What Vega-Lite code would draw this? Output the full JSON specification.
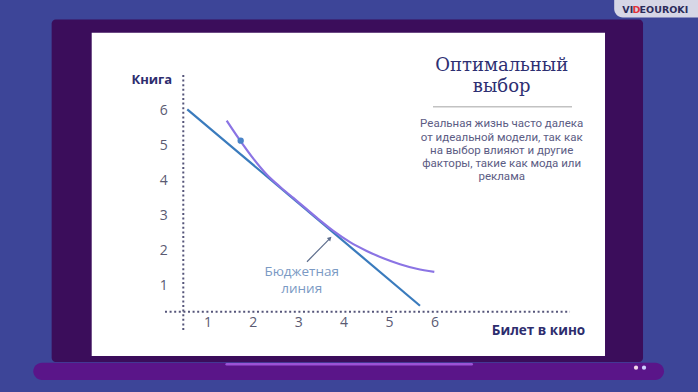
{
  "$schema": "https://vega.github.io/schema/vega-lite/v6.json",
  "width": 698,
  "height": 392,
  "autosize": {"type": "fit", "contains": "padding"},
  "padding": 0,
  "background": "#3d4598",
  "config": {"view": {"stroke": null}},
  "datasets": {
    "panels": [
      {"part": "frame", "x": -2.430, "x2": 10.595, "y": 8.600, "y2": -1.169},
      {"part": "slide", "x": -1.548, "x2": 9.758, "y": 8.223, "y2": -0.998},
      {"part": "base", "x": -2.835, "x2": 11.057, "y": -1.189, "y2": -1.683},
      {"part": "logo", "x": 9.96, "x2": 11.806, "y": 9.156, "y2": 8.66}
    ],
    "stripe": [{"x": 1.425, "x2": 6.822, "y": -1.236}],
    "lights": [
      {"light": "left", "x": 10.441, "y": -1.332},
      {"light": "right", "x": 10.617, "y": -1.332}
    ],
    "axislines": [
      {"axis": "Книга", "x": 0.469, "x2": 0.469, "y": 7.017, "y2": -0.257},
      {"axis": "Билет в кино", "x": 0.066, "x2": 8.987, "y": 0.265, "y2": 0.265}
    ],
    "budget": [
      {"x": 0.557, "y": 6.038},
      {"x": 5.683, "y": 0.436}
    ],
    "curve": [
      {"x": 1.425, "y": 5.713},
      {"x": 1.718, "y": 5.15},
      {"x": 2.012, "y": 4.63},
      {"x": 2.306, "y": 4.18},
      {"x": 2.599, "y": 3.83},
      {"x": 2.893, "y": 3.51},
      {"x": 3.187, "y": 3.19},
      {"x": 3.48, "y": 2.87},
      {"x": 3.774, "y": 2.57},
      {"x": 4.141, "y": 2.25},
      {"x": 4.508, "y": 2.0},
      {"x": 4.875, "y": 1.79},
      {"x": 5.242, "y": 1.62},
      {"x": 5.61, "y": 1.49},
      {"x": 5.998, "y": 1.40}
    ],
    "point": [{"x": 1.733, "y": 5.143}],
    "arrow": [{"x": 3.194, "y": 1.691, "x2": 3.700, "y2": 2.359}],
    "arrowhead": [{"x": 3.700, "y": 2.359}],
    "annot": [
      {"t": "Бюджетная", "x": 3.077, "y": 1.39},
      {"t": "линия", "x": 3.077, "y": 0.90}
    ],
    "titles": [
      {"t": "Оптимальный", "x": 7.482, "y": 7.273},
      {"t": "выбор", "x": 7.482, "y": 6.683}
    ],
    "divider": [{"x": 5.969, "x2": 9.031, "y": 6.112}],
    "body": [
      {"t": "Реальная жизнь часто далека", "x": 7.482, "y": 5.619},
      {"t": "от идеальной модели, так как", "x": 7.482, "y": 5.228},
      {"t": "на выбор влияют и другие", "x": 7.482, "y": 4.849},
      {"t": "факторы, такие как мода или", "x": 7.482, "y": 4.478},
      {"t": "реклама", "x": 7.482, "y": 4.107}
    ],
    "logoA": [{"t": "VI", "x": 10.38, "y": 8.87}],
    "logoD": [{"t": "D", "x": 10.45, "y": 8.87}],
    "logoB": [{"t": "EOUROKI", "x": 10.52, "y": 8.87}]
  },
  "encoding": {
    "x": {
      "field": "x",
      "type": "quantitative",
      "scale": {"domain": [-3.568, 11.806], "nice": false, "zero": false},
      "axis": {
        "orient": "bottom",
        "offset": -80.3,
        "zindex": 5,
        "domain": false,
        "ticks": false,
        "grid": false,
        "values": [1, 2, 3, 4, 5, 6],
        "labelFont": "Open Sans",
        "labelFontSize": 14,
        "labelColor": "#5a5a72",
        "labelPadding": 4,
        "title": "Билет в кино",
        "titleFont": "Open Sans",
        "titleFontSize": 13.5,
        "titleFontWeight": "bold",
        "titleColor": "#2d2d6e",
        "titleX": 538,
        "titleY": 18.8,
        "titleAlign": "center",
        "titleBaseline": "middle",
        "titleAnchor": null
      }
    },
    "y": {
      "field": "y",
      "type": "quantitative",
      "scale": {"domain": [-2.025, 9.156], "nice": false, "zero": false},
      "axis": {
        "orient": "left",
        "offset": -183.3,
        "zindex": 5,
        "domain": false,
        "ticks": false,
        "grid": false,
        "values": [1, 2, 3, 4, 5, 6],
        "labelFont": "Open Sans",
        "labelFontSize": 14,
        "labelColor": "#5a5a72",
        "labelPadding": 16,
        "title": "Книга",
        "titleFont": "Open Sans",
        "titleFontSize": 13,
        "titleFontWeight": "bold",
        "titleColor": "#2d2d6e",
        "titleAngle": 0,
        "titleX": -32,
        "titleY": 79,
        "titleAlign": "center",
        "titleBaseline": "middle",
        "titleAnchor": null
      }
    }
  },
  "layer": [
    {
      "data": {"name": "panels"},
      "transform": [{"filter": "datum.part === 'frame'"}],
      "mark": {"type": "rect", "color": "#3b0d5b", "cornerRadius": 4},
      "encoding": {"x2": {"field": "x2"}, "y2": {"field": "y2"}}
    },
    {
      "data": {"name": "panels"},
      "transform": [{"filter": "datum.part === 'base'"}],
      "mark": {"type": "rect", "color": "#5a1589", "cornerRadius": 9},
      "encoding": {"x2": {"field": "x2"}, "y2": {"field": "y2"}}
    },
    {
      "data": {"name": "panels"},
      "transform": [{"filter": "datum.part === 'slide'"}],
      "mark": {"type": "rect", "color": "#ffffff"},
      "encoding": {"x2": {"field": "x2"}, "y2": {"field": "y2"}}
    },
    {
      "data": {"name": "panels"},
      "transform": [{"filter": "datum.part === 'logo'"}],
      "mark": {"type": "rect", "color": "#d6d6e6", "cornerRadiusBottomLeft": 10},
      "encoding": {"x2": {"field": "x2"}, "y2": {"field": "y2"}}
    },
    {
      "data": {"name": "stripe"},
      "mark": {"type": "rule", "color": "#9b52d6", "strokeWidth": 2.5, "strokeCap": "round"},
      "encoding": {"x2": {"field": "x2"}}
    },
    {
      "data": {"name": "lights"},
      "mark": {"type": "point", "filled": true, "size": 18, "opacity": 1},
      "encoding": {
        "color": {
          "field": "light",
          "type": "nominal",
          "scale": {"domain": ["left", "right"], "range": ["#f4d6ea", "#cfd0ff"]},
          "legend": null
        }
      }
    },
    {
      "data": {"name": "axislines"},
      "mark": {"type": "rule", "color": "#55557a", "strokeWidth": 2, "strokeDash": [2, 2.6]},
      "encoding": {"x2": {"field": "x2"}, "y2": {"field": "y2"}}
    },
    {
      "data": {"name": "budget"},
      "mark": {"type": "line", "color": "#3a7bbd", "strokeWidth": 2.2},
      "encoding": {}
    },
    {
      "data": {"name": "curve"},
      "mark": {"type": "line", "color": "#8b74e4", "strokeWidth": 2.2, "interpolate": "monotone"},
      "encoding": {}
    },
    {
      "data": {"name": "point"},
      "mark": {"type": "point", "filled": true, "size": 40, "color": "#4a84c8", "opacity": 1},
      "encoding": {}
    },
    {
      "data": {"name": "arrow"},
      "mark": {"type": "rule", "color": "#5d6d8c", "strokeWidth": 1.2},
      "encoding": {"x2": {"field": "x2"}, "y2": {"field": "y2"}}
    },
    {
      "data": {"name": "arrowhead"},
      "mark": {"type": "point", "shape": "triangle-up", "filled": true, "size": 22, "angle": 45, "color": "#5d6d8c", "opacity": 1},
      "encoding": {}
    },
    {
      "data": {"name": "annot"},
      "mark": {"type": "text", "font": "Open Sans", "fontSize": 13.5, "color": "#7b9ac4", "align": "center", "baseline": "middle"},
      "encoding": {"text": {"field": "t"}}
    },
    {
      "data": {"name": "titles"},
      "mark": {"type": "text", "font": "DejaVu Serif", "fontSize": 18, "color": "#2d2f72", "align": "center", "baseline": "middle"},
      "encoding": {"text": {"field": "t"}}
    },
    {
      "data": {"name": "divider"},
      "mark": {"type": "rule", "color": "#c2c2c2", "strokeWidth": 1.5},
      "encoding": {"x2": {"field": "x2"}}
    },
    {
      "data": {"name": "body"},
      "mark": {"type": "text", "font": "Roboto", "fontSize": 11.5, "color": "#5c5c84", "align": "center", "baseline": "middle"},
      "encoding": {"text": {"field": "t"}}
    },
    {
      "data": {"name": "logoA"},
      "mark": {"type": "text", "font": "DejaVu Sans", "fontSize": 9.5, "fontWeight": "bold", "color": "#2b2b5b", "align": "right", "baseline": "middle"},
      "encoding": {"text": {"field": "t"}}
    },
    {
      "data": {"name": "logoD"},
      "mark": {"type": "text", "font": "DejaVu Sans", "fontSize": 9.5, "fontWeight": "bold", "color": "#e0313a", "align": "center", "baseline": "middle"},
      "encoding": {"text": {"field": "t"}}
    },
    {
      "data": {"name": "logoB"},
      "mark": {"type": "text", "font": "DejaVu Sans", "fontSize": 9.5, "fontWeight": "bold", "color": "#2b2b5b", "align": "left", "baseline": "middle"},
      "encoding": {"text": {"field": "t"}}
    }
  ]
}
